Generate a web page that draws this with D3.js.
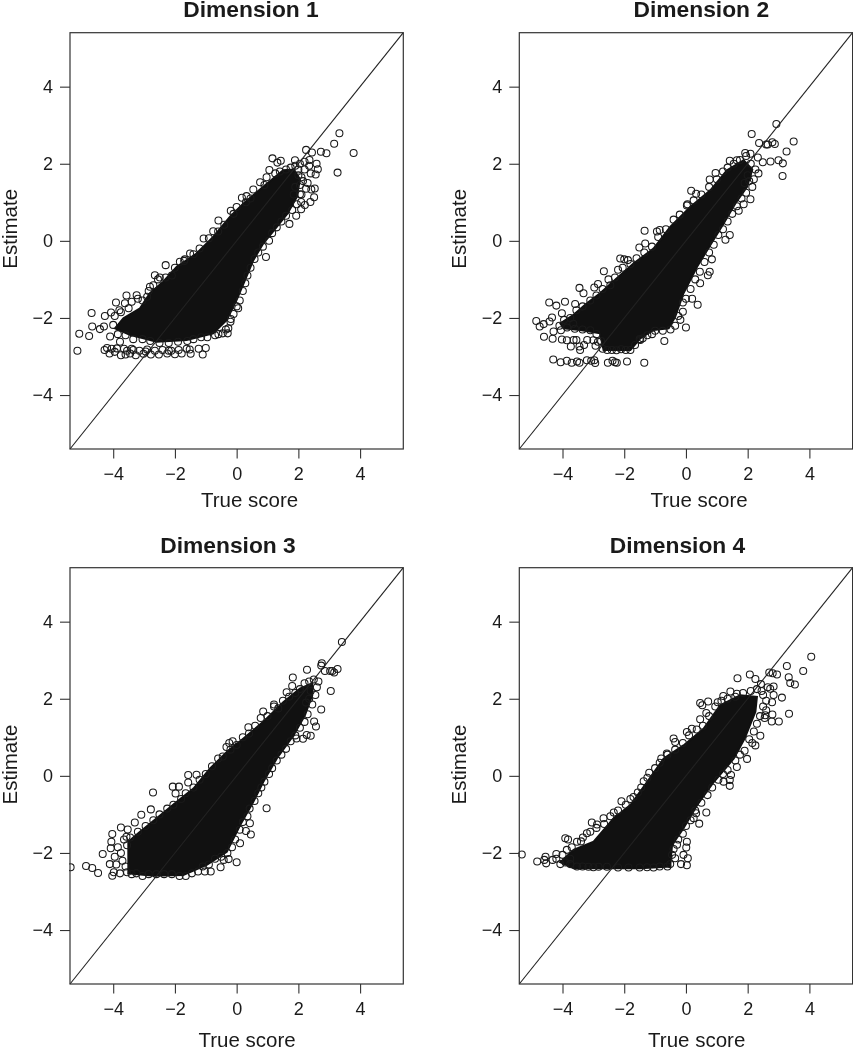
<!DOCTYPE html>
<html><head><meta charset="utf-8">
<script src="https://cdnjs.cloudflare.com/ajax/libs/d3/7.8.5/d3.min.js"></script>
<style>html,body{margin:0;background:#fff}svg{display:block;filter:blur(0.35px)}text{font-family:"Liberation Sans",Arial,sans-serif;fill:#1a1a1a}</style>
</head><body><script>
const titles=["Dimension 1","Dimension 2","Dimension 3","Dimension 4"];
const xTitle="True score", yTitle="Estimate";
const tickValues=[-4,-2,0,2,4];
const axisLimit=5.4;

// dense centre of each cloud, outline
const dim1Core=[[-3.94,-2.27],[-3.67,-2.01],[-3.13,-1.75],[-2.81,-1.36],[-2.38,-1.06],[-1.94,-.67],[-1.30,-.33],[-.76,.10],[-.22,.62],[.22,.97],[.86,1.40],[1.51,1.83],[1.85,1.85],[2.05,1.6],[1.95,1.14],[1.65,.71],[1.30,.36],[.86,-.07],[.54,-.50],[.27,-1.02],[0,-1.53],[-.32,-2.05],[-.76,-2.40],[-1.62,-2.57],[-2.59,-2.62],[-3.46,-2.44]];
const dim2Core=[[-4.07,-2.14],[-3.64,-1.92],[-3.21,-1.62],[-2.78,-1.36],[-2.24,-.97],[-1.70,-.59],[-1.05,-.20],[-.51,.36],[.14,.88],[.79,1.31],[1.33,1.83],[1.87,2.09],[2.15,1.85],[1.98,1.40],[1.60,.97],[1.22,.45],[.79,-.11],[.36,-.67],[-.08,-1.36],[-.35,-1.97],[-.56,-2.27],[-1.05,-2.31],[-1.48,-2.53],[-1.80,-2.83],[-2.67,-2.83],[-2.78,-2.40],[-3.43,-2.31],[-3.97,-2.27]];
const dim3Core=[[-3.51,-2.53],[-3.51,-1.71],[-3.13,-1.45],[-2.59,-1.10],[-1.94,-.67],[-1.40,-.33],[-.86,.19],[-.32,.62],[.22,.97],[.86,1.40],[1.51,1.91],[2.05,2.26],[2.45,2.40],[2.45,2.09],[2.21,1.57],[1.84,1.05],[1.30,.45],[.86,-.16],[.54,-.67],[.11,-1.28],[-.32,-1.97],[-.97,-2.31],[-1.73,-2.57],[-2.70,-2.59]];
const dim4Core=[[-4.07,-2.24],[-3.64,-1.92],[-2.99,-1.71],[-2.34,-1.10],[-1.80,-.76],[-1.26,-.16],[-.72,.45],[-.08,.79],[.57,1.22],[1.11,1.83],[1.76,2.09],[2.3,2.05],[2.25,1.66],[1.90,.97],[1.55,.45],[.90,-.16],[.36,-.76],[-.08,-1.36],[-.45,-1.79],[-.51,-2.35],[-1.48,-2.40],[-3.64,-2.40]];

const dim1Points=[[3.33,2.79],[3.16,2.52],[3.79,2.28],[3.27,1.77],[2.91,2.27],[2.73,2.31],[2.44,2.29],[2.25,2.36],[2.59,2.0],[2.63,1.86],[2.56,1.72],[2.36,2.10],[2.53,1.36],[2.42,1.33],[2.51,1.13],[2.39,1.01],[2.21,.93],[2.09,.82],[1.93,.65],[1.71,.44],[2.09,1.01],[2.05,1.21],[1.16,2.14],[1.43,2.08],[1.32,2.03],[1.89,2.09],[1.06,1.84],[.97,1.65],[.76,1.52],[.54,1.33],[.32,1.16],[.17,1.12],[0,.88],[-.19,.78],[-.59,.53],[-.76,.25],[-1.07,.06],[-.9,.07],[-1.51,-.33],[-2.30,-.63],[-1.84,-.54],[-1.68,-.48],[-2.65,-.89],[-2.49,-.95],[-2.1,-.9],[-2.81,-1.19],[-3.24,-1.41],[-3.57,-1.42],[-3.91,-1.60],[-3.62,-1.62],[-3.4,-1.58],[-3.8,-1.8],[-4.70,-1.87],[-4.07,-1.86],[-4.27,-1.95],[-4.68,-2.22],[-5.10,-2.41],[-4.78,-2.47],[-5.16,-2.85],[-4.43,-2.29],[-4.3,-2.22],[-4.1,-2.48],[-4.0,-2.18],
[-3.95,-1.95],[-3.75,-1.85],[-3.5,-1.75],[-3.2,-1.5],[-3.05,-1.55],[-2.9,-1.45],[-2.85,-1.3],[-2.7,-1.15],[-2.55,-1.0],[-2.3,-.95],[-2.0,-.7],[-1.7,-.52],[-1.4,-.35],[-1.2,-.2],[-.6,.24],[-.4,.42],[-.1,.7],[.3,1.0],[.45,1.1],[.9,1.45],[1.25,1.75],[1.4,1.8],[1.6,1.85],[1.75,1.9],[1.9,1.95],[2.05,2.0],[2.2,2.05],[2.0,1.7],[2.15,1.55],[1.9,1.4],[2.05,1.45],[1.85,1.2],[2.0,1.85],[2.2,1.85],[2.1,1.65],
[2.35,1.95],[2.4,1.75],[2.3,1.5],[2.25,1.35],[2.1,1.2],[1.95,.95],[1.8,.8],[1.6,.65],[1.45,.5],[1.3,.35],[1.15,.2],[1.05,0],[.85,-.15],[.95,-.42],[.7,-.3],[.58,-.47],[.45,-.7],[.35,-.9],[.28,-1.1],[.2,-1.3],[.1,-1.55],[.05,-1.75],[0,-1.7],[-.1,-1.9],[-.19,-2.03],[-.2,-2.1],[-.27,-2.27],[-.29,-2.40],[-.35,-2.3],[-.59,-2.42],[-.45,-2.4],[-.7,-2.45],[-.95,-2.5],[-1.15,-2.5],[-1.4,-2.55],[-1.6,-2.6],[-1.9,-2.62],[-2.2,-2.65],[-2.5,-2.65],[-2.8,-2.6],[-3.05,-2.55],[-3.35,-2.55],[-3.6,-2.45],[-3.85,-2.42],[-3.78,-2.62],
[-4.28,-2.83],[-4.2,-2.78],[-4.12,-2.92],[-4.05,-2.8],[-3.95,-2.88],[-3.88,-2.79],[-3.75,-2.97],[-3.65,-2.8],[-3.55,-2.85],[-3.45,-2.92],[-3.35,-2.83],[-3.27,-2.97],[-3.15,-2.85],[-3.02,-2.93],[-2.9,-2.82],[-2.78,-2.95],[-2.65,-2.85],[-2.52,-2.95],[-2.4,-2.83],[-2.25,-2.92],[-2.12,-2.85],[-2.0,-2.94],[-1.88,-2.83],[-1.78,-2.92],[-1.62,-2.8],[-1.49,-2.93],[-1.52,-2.82],[-1.23,-2.80],[-1.0,-2.78],[-1.10,-2.95],[-3.6,-2.95],[-3.4,-2.8],[-2.2,-2.85],[-2.95,-2.87]];

const dim2Points=[[2.93,3.03],[2.13,2.77],[3.49,2.58],[2.37,2.54],[2.60,2.50],[2.65,2.5],[2.80,2.56],[2.88,2.51],[3.26,2.32],[3.00,2.09],[3.14,2.01],[3.13,1.68],[2.74,2.06],[2.49,2.04],[2.33,2.16],[2.09,2.26],[1.92,2.28],[1.42,2.08],[1.65,2.09],[.96,1.76],[.77,1.59],[.17,1.30],[.33,1.22],[.03,.92],[-1.34,.26],[-.85,.28],[-.94,.24],[-1.32,-.07],[-1.51,-.17],[-2.13,-.46],[-1.88,-.5],[-2.0,-.48],[-2.66,-.79],[-2.51,-1.0],[-2.85,-1.12],[-3.45,-1.22],[-3.32,-1.36],[-2.97,-1.21],[-3.92,-1.58],[-4.43,-1.60],[-4.2,-1.68],[-3.59,-1.64],[-4.02,-1.88],[-4.34,-1.99],[-4.85,-2.08],[-4.74,-2.22],[-4.61,-2.16],[-4.42,-2.09],[-4.60,-2.49],[-4.32,-2.54],[-4.29,-2.35],[-4.02,-2.56],[-3.86,-2.58],[-3.64,-2.57],[-3.73,-2.74],[-3.55,-2.57],[-3.43,-2.83],[-3.45,-2.74],[-3.30,-2.70],[-3.2,-2.57],[-3.0,-2.58],[-2.93,-2.72],[-2.85,-2.62],
[-4.30,-3.08],[-4.06,-3.15],[-3.86,-3.11],[-3.70,-3.16],[-3.53,-3.13],[-3.45,-3.16],[-3.21,-3.10],[-3.07,-3.11],[-2.94,-3.17],[-2.97,-3.1],[-2.53,-3.16],[-2.38,-3.11],[-2.3,-3.15],[-2.24,-3.16],[-1.91,-3.13],[-1.35,-3.16],
[-.70,-2.60],[-1.4,-2.53],[-1.48,-2.57],[-1.10,-2.42],[0,-2.25],[-.18,-2.05],[-.10,-1.84],[.38,-1.66],[.2,-1.5],[.46,-1.10],[.71,-.89],[.77,-.80],[.84,-.48],[1.42,.15],[1.28,.03],[2.09,1.08],[1.87,.95],[1.71,.78],
[-4.1,-2.2],[-3.95,-2.05],[-3.75,-2.0],[-3.55,-1.8],[-3.35,-1.7],[-3.1,-1.55],[-2.9,-1.42],[-2.7,-1.25],[-2.45,-1.15],[-2.3,-.95],[-2.2,-.75],[-2.05,-.7],[-1.8,-.6],[-1.6,-.45],[-1.35,-.3],[-1.1,-.15],[-.9,.1],[-.65,.3],[-.4,.55],[-.2,.68],[.05,.95],[.25,1.05],[.5,1.2],[.75,1.4],[1.0,1.6],[1.2,1.8],[1.35,1.9],[1.55,2.0],[1.75,2.1],[1.95,2.2],[2.1,2.0],[2.25,1.85],[2.35,1.75],[2.2,1.6],[2.15,1.4],[1.95,1.25],[1.8,1.1],[1.65,.9],[1.5,.7],[1.35,.5],[1.2,.3],[1.05,.15],[.9,-.1],[.75,-.3],[.6,-.55],[.45,-.8],[.3,-1.0],[.15,-1.25],[.0,-1.5],[-.1,-1.6],[-.25,-1.95],[-.35,-2.2],[-.5,-2.3],[-.75,-2.33],[-1.0,-2.33],[-1.25,-2.45],[-1.5,-2.55],[-1.65,-2.7],[-1.8,-2.83],[-1.95,-2.83],[-2.1,-2.81],[-2.25,-2.84],[-2.4,-2.83],[-2.55,-2.83],[-2.7,-2.8],[-2.75,-2.6],[-2.9,-2.42],[-3.1,-2.32],[-3.35,-2.3],[-3.6,-2.28],[-3.85,-2.25],[-4.05,-2.32],[-3.65,-2.15],[2.0,1.7],[1.9,1.5],[2.05,1.55]];

const dim3Points=[[3.41,3.47],[2.76,2.92],[2.74,2.86],[3.27,2.77],[3.03,2.72],[3.16,2.68],[3.1,2.72],[2.86,2.72],[2.28,2.75],[1.82,2.55],[1.80,2.33],[3.05,2.20],[2.74,1.72],[2.51,1.41],[2.57,1.28],[2.27,1.06],[2.40,1.04],[2.15,.96],[1.94,.97],[.97,-.84],[.43,-1.23],[.30,-1.43],[.46,-1.52],[.11,-1.75],[0,-2.24],[-.26,-2.16],[-.52,-2.37],[-.84,-2.48],[-1.03,-2.48],[-.42,-2.18],[-1.57,.02],[-1.30,.03],[-1.57,-.17],[-2.07,-.28],[-1.87,-.28],[-1.98,-.46],[-2.71,-.43],[-2.78,-.87],[-3.09,-1.01],[-3.30,-1.21],[-3.75,-1.34],[-3.53,-1.39],[-4.03,-1.51],[-4.06,-1.71],[-3.57,-1.58],[-4.34,-2.03],[-4.08,-1.88],[-4.11,-2.29],[-4.88,-2.34],[-4.68,-2.39],[-4.49,-2.52],[-5.38,-2.37],[-4.03,-2.59],[-3.98,-2.50],[-3.78,-2.53],[-3.9,-2.3],[-3.75,-2.0],[-3.95,-2.1],[-3.85,-1.85],[-.33,.75],[-.13,.90],[-.24,.85],[.38,1.26],[.86,1.67],[1.21,1.85],[1.62,2.17],
[-3.65,-1.65],[-3.55,-1.8],[-3.7,-2.2],[-3.6,-2.35],[-3.55,-2.5],[-3.4,-2.55],[-3.25,-2.53],[-3.05,-2.6],[-2.85,-2.55],[-2.6,-2.55],[-2.35,-2.55],[-2.1,-2.55],[-1.85,-2.6],[-1.65,-2.6],[-1.45,-2.53],[-1.25,-2.48],[-1.1,-2.35],[-.9,-2.3],[-.7,-2.15],[-.5,-2.1],[-.3,-2.0],[-.15,-1.85],[-.05,-1.65],[.1,-1.4],[.2,-1.2],[.35,-1.05],[.42,-.85],[.58,-.65],[.7,-.45],[.8,-.3],[.9,-.15],[1.05,.05],[1.15,.2],[1.3,.4],[1.45,.55],[1.6,.7],[1.75,.9],[1.9,1.05],[2.05,1.25],[2.2,1.4],[2.3,1.6],[2.45,1.85],[2.55,2.1],[2.6,2.3],[2.65,2.45],[2.5,2.5],[2.35,2.45],[2.2,2.4],[2.05,2.25],[1.9,2.15],[1.7,2.05],[1.5,1.95],[1.35,1.75],[1.21,1.8],[1.0,1.55],[.78,1.5],[.6,1.3],[.4,1.1],[.2,1.0],[0,.8],[-.2,.68],[-.45,.5],[-.6,.45],[-.8,.25],[-1.0,.05],[-1.2,-.1],[-1.4,-.3],[-1.65,-.45],[-1.8,-.6],[-2.05,-.75],[-2.25,-.85],[-2.5,-1.0],[-2.7,-1.15],[-2.95,-1.3],[-3.2,-1.45],[-3.45,-1.6],[2.4,2.2],[2.25,1.9],[2.35,2.0]];

const dim4Points=[[4.06,3.09],[3.27,2.85],[3.80,2.72],[3.33,2.56],[3.38,2.41],[3.53,2.37],[2.70,2.68],[2.95,2.63],[2.81,2.66],[2.07,2.63],[1.67,2.53],[2.25,2.51],[2.43,2.38],[2.84,2.32],[2.73,2.26],[3.11,2.03],[2.84,2.1],[2.79,1.91],[3.34,1.61],[2.80,1.59],[2.78,1.41],[3.01,1.41],[2.57,1.57],[2.41,1.04],[2.25,.79],[1.98,.44],[1.65,.23],[1.42,-.11],[1.42,-.26],[1.22,-.15],[1.46,.02],[.66,-.95],[.43,-1.24],[.33,-.97],[.25,-1.1],[.01,-1.86],[.03,-1.71],[-.29,-1.79],[.03,-2.32],[.06,-2.14],[-.08,-2.05],[-.16,-2.29],[-.51,-2.29],[-.35,-2.14],[.46,1.89],[.53,1.83],[.72,1.93],[.66,1.63],[.46,1.47],[1.03,1.91],[1.21,2.07],[1.44,2.19],[1.65,2.13],[.03,1.14],[.19,1.22],[-.40,.97],[-.35,.88],[-.62,.58],[-.85,.34],[-1.19,.08],[-1.37,-.14],[-1.56,-.43],[-1.80,-.60],[-2.09,-.66],[-2.34,-.95],[-2.67,-1.10],[-3.05,-1.21],[-2.88,-1.26],[-3.21,-1.49],[-3.34,-1.60],[-3.53,-1.71],[-3.91,-1.62],[-3.82,-1.65],[-3.86,-1.92],[-5.32,-2.04],[-4.82,-2.22],[-4.55,-2.10],[-4.59,-2.18],[-4.53,-2.27],[-4.32,-2.18],[-4.07,-2.29],[-4.2,-2.03],[-3.75,-2.15],[-3.53,-2.35],[-3.16,-2.36],[-2.83,-2.36],[-2.56,-2.36],[-1.86,-2.38],[-1.26,-2.37],[-.85,-2.35],[-3.75,-2.29],
[-4.2,-2.15],[-4.0,-2.05],[-3.7,-1.85],[-3.4,-1.7],[-3.1,-1.45],[-2.9,-1.35],[-2.65,-1.25],[-2.45,-1.05],[-2.2,-.9],[-1.95,-.75],[-1.7,-.55],[-1.45,-.3],[-1.25,-.05],[-1.0,.2],[-.8,.45],[-.6,.55],[-.35,.68],[-.1,.85],[.1,1.05],[.35,1.2],[.55,1.3],[.75,1.55],[.95,1.8],[1.15,1.95],[1.35,2.0],[1.6,2.05],[1.85,2.15],[2.1,2.2],[2.3,2.25],[2.5,2.1],[2.6,1.95],[2.5,1.8],[2.4,1.55],[2.3,1.35],[2.2,1.15],[2.05,.95],[2.15,.85],[1.9,.65],[1.75,.55],[1.6,.4],[1.35,.15],[1.2,.05],[1.05,-.1],[.85,-.3],[.7,-.5],[.5,-.7],[.3,-.9],[.15,-1.15],[0,-1.3],[-.1,-1.5],[-.25,-1.65],[-.4,-1.9],[-.45,-2.05],[-.6,-2.35],[-1.05,-2.38],[-1.5,-2.38],[-2.2,-2.38],[-3.0,-2.37],[-3.35,-2.35],[-3.9,-2.25],[2.6,1.7],[2.45,2.2],[2.65,2.3],[2.55,1.5]];

const allCores=[dim1Core,dim2Core,dim3Core,dim4Core];
const allPoints=[dim1Points,dim2Points,dim3Points,dim4Points];

// panel frames and text anchors, in page pixels
const panelLeft=[70,519.3,70,519.3], panelTop=[32.7,32.7,567.7,567.7];
const panelW=333.3, panelH=416.3;
const titleX=[251,701.3,228,677.5], titleY=[17,17,552.7,552.7];
const xLabX=[249.5,699,247,696.7], xLabY=[507,507,1047,1047];
const yLabX=[17,465.5,17,465.5], yLabY=[228.8,228.8,764.5,764.5];

const svg=d3.select("body").append("svg").attr("width",853).attr("height",1050);
const fmt=d=>String(d).replace("-","\u2212");

titles.forEach((t,i)=>{
  const g=svg.append("g").attr("transform",`translate(${panelLeft[i]},${panelTop[i]})`);
  const x=d3.scaleLinear().domain([-axisLimit,axisLimit]).range([0,panelW]);
  const y=d3.scaleLinear().domain([-axisLimit,axisLimit]).range([panelH,0]);
  const clip=`clip${i}`;
  g.append("clipPath").attr("id",clip).append("rect").attr("x",-1).attr("y",-1).attr("width",panelW+2).attr("height",panelH+2);
  const plot=g.append("g").attr("clip-path",`url(#${clip})`);
  plot.append("path").datum(allCores[i])
    .attr("d",d3.line().x(d=>x(d[0])).y(d=>y(d[1])).curve(d3.curveLinearClosed))
    .attr("fill","#111").attr("stroke","#111").attr("stroke-width",2);
  plot.append("g").selectAll("circle").data(allPoints[i]).join("circle")
    .attr("cx",d=>x(d[0])).attr("cy",d=>y(d[1])).attr("r",3.5)
    .attr("fill","none").attr("stroke","#1a1a1a").attr("stroke-width",1.05);
  plot.append("line").attr("x1",x(-axisLimit)).attr("y1",y(-axisLimit)).attr("x2",x(axisLimit)).attr("y2",y(axisLimit))
    .attr("stroke","#222").attr("stroke-width",1.1);
  g.append("rect").attr("width",panelW).attr("height",panelH).attr("fill","none").attr("stroke","#333").attr("stroke-width",1.2);

  const ax=g.append("g").attr("transform",`translate(0,${panelH})`)
    .call(d3.axisBottom(x).tickValues(tickValues).tickFormat(fmt).tickSize(9.5).tickPadding(9));
  const ay=g.append("g").call(d3.axisLeft(y).tickValues(tickValues).tickFormat(fmt).tickSize(10).tickPadding(7));
  [ax,ay].forEach(a=>{a.select(".domain").remove();
    a.selectAll("line").attr("stroke","#333").attr("stroke-width",1.1);
    a.selectAll("text").style("font-size","18px").attr("fill","#1a1a1a");});

  svg.append("text").attr("x",titleX[i]).attr("y",titleY[i]).attr("text-anchor","middle")
    .style("font-size","22.8px").style("font-weight","bold").text(t);
  svg.append("text").attr("x",xLabX[i]).attr("y",xLabY[i]).attr("text-anchor","middle")
    .style("font-size","20.5px").text(xTitle);
  svg.append("text").attr("transform",`translate(${yLabX[i]},${yLabY[i]}) rotate(-90)`).attr("text-anchor","middle")
    .style("font-size","20.5px").text(yTitle);
});
</script></body></html>
